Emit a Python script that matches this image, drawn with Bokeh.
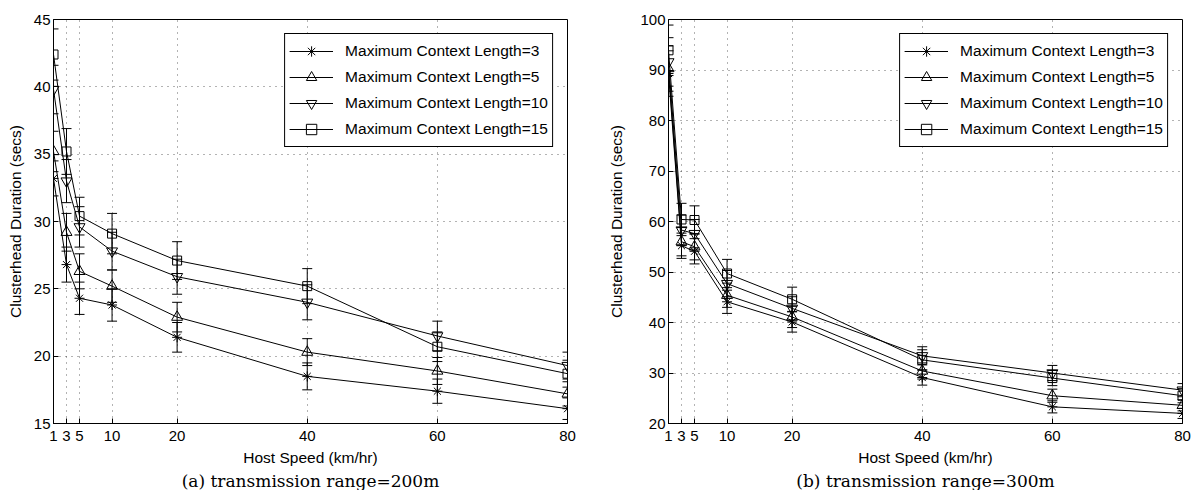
from bokeh.plotting import figure
from bokeh.layouts import row
from bokeh.models import ColumnDataSource, Whisker, TeeHead, FixedTicker, Title, Legend
from bokeh.embed import file_html
from bokeh.resources import INLINE

speeds = [1, 3, 5, 10, 20, 40, 60, 80]
series_labels = ["Maximum Context Length=3", "Maximum Context Length=5",
                 "Maximum Context Length=10", "Maximum Context Length=15"]

# (a) transmission range = 200m
a_mcl3 = [33.2, 26.8, 24.3, 23.8, 21.4, 18.5, 17.4, 16.1]
a_mcl5 = [35.2, 29.2, 26.3, 25.2, 22.9, 20.3, 18.9, 17.2]
a_mcl10 = [39.8, 33.0, 29.6, 27.8, 25.9, 24.0, 21.5, 19.3]
a_mcl15 = [42.4, 35.2, 30.4, 29.1, 27.1, 25.2, 20.7, 18.7]
a_err3 = [1.3, 1.3, 1.2, 1.2, 1.1, 1.0, 0.9, 0.8]
a_err5 = [1.5, 1.4, 1.3, 1.2, 1.1, 1.0, 1.0, 0.9]
a_err10 = [1.8, 1.6, 1.5, 1.4, 1.3, 1.3, 1.1, 1.0]
a_err15 = [1.9, 1.7, 1.4, 1.5, 1.4, 1.3, 1.1, 1.0]

# (b) transmission range = 300m
b_mcl3 = [89.3, 55.2, 54.1, 44.1, 40.1, 29.1, 23.3, 22.0]
b_mcl5 = [90.3, 56.0, 55.0, 45.4, 41.1, 30.4, 25.5, 23.6]
b_mcl10 = [91.6, 58.3, 57.6, 47.7, 42.8, 33.4, 30.0, 26.6]
b_mcl15 = [93.9, 60.4, 60.3, 49.7, 44.6, 32.6, 29.0, 25.5]
b_err3 = [4.5, 2.5, 2.5, 2.3, 2.0, 1.5, 1.2, 1.0]
b_err5 = [4.5, 2.8, 2.6, 2.4, 2.1, 1.6, 1.3, 1.1]
b_err10 = [4.8, 3.0, 2.8, 2.6, 2.3, 1.8, 1.5, 1.3]
b_err15 = [5.0, 3.2, 2.8, 2.8, 2.4, 2.0, 1.5, 1.4]

markers = ["asterisk", "triangle", "inverted_triangle", "square"]
msizes = [10, 11, 11, 9]

SANS = "Liberation Sans"


def make_panel(vals, errs, yr, yticks, caption, width, bl, br, ylab_standoff):
    p = figure(width=width, height=490, x_range=(1, 80), y_range=yr,
               output_backend="svg", toolbar_location=None,
               min_border_left=bl, min_border_right=br,
               min_border_top=19, min_border_bottom=10)
    p.outline_line_color = "black"
    p.outline_line_width = 1
    p.outline_line_alpha = 1
    p.background_fill_color = "white"
    p.border_fill_color = "white"

    p.xaxis.ticker = FixedTicker(ticks=speeds)
    p.yaxis.ticker = FixedTicker(ticks=yticks)
    for ax in (p.xaxis[0], p.yaxis[0]):
        ax.major_tick_in = 5
        ax.major_tick_out = 0
        ax.minor_tick_in = 0
        ax.minor_tick_out = 0
        ax.axis_line_color = "black"
        ax.major_tick_line_color = "black"
        ax.major_label_text_font = SANS
        ax.major_label_text_font_size = "15px"
        ax.major_label_text_color = "black"
        ax.axis_label_text_font = SANS
        ax.axis_label_text_font_size = "15.5px"
        ax.axis_label_text_font_style = "normal"
        ax.axis_label_text_color = "black"
    p.xaxis.major_label_standoff = 7
    p.yaxis.major_label_standoff = 3
    p.xaxis.axis_label = "Host Speed (km/hr)"
    p.yaxis.axis_label = "Clusterhead Duration (secs)"
    p.xaxis.axis_label_standoff = 5
    p.yaxis.axis_label_standoff = ylab_standoff

    for g in (p.xgrid[0], p.ygrid[0]):
        g.grid_line_color = "black"
        g.grid_line_alpha = 0.6
        g.grid_line_dash = "1 5"
        g.grid_line_width = 1

    items = []
    for i in range(4):
        y = vals[i]
        e = errs[i]
        src = ColumnDataSource(dict(x=speeds, y=y,
                                    upper=[a + b for a, b in zip(y, e)],
                                    lower=[a - b for a, b in zip(y, e)]))
        w = Whisker(source=src, base="x", upper="upper", lower="lower",
                    line_color="black", line_width=1,
                    upper_head=TeeHead(size=10, line_color="black", line_width=1),
                    lower_head=TeeHead(size=10, line_color="black", line_width=1))
        p.add_layout(w)
        r1 = p.line("x", "y", source=src, line_color="black", line_width=1)
        r2 = p.scatter("x", "y", source=src, marker=markers[i], size=msizes[i],
                       line_color="black", line_width=1, fill_color=None)
        items.append((series_labels[i], [r1, r2]))

    leg = Legend(items=items, location="top_right", margin=14,
                 border_line_color="black", border_line_width=1, border_line_alpha=1,
                 background_fill_color="white", background_fill_alpha=1,
                 label_text_font=SANS, label_text_font_size="15.5px",
                 label_text_color="black",
                 glyph_width=44, glyph_height=26, label_height=26,
                 label_standoff=12, spacing=0, padding=4)
    p.add_layout(leg)

    t = Title(text=caption, align="center", text_font="DejaVu Serif",
              text_font_size="17px", text_font_style="normal",
              text_color="black", standoff=0, offset=0)
    p.add_layout(t, "below")
    return p


pa = make_panel([a_mcl3, a_mcl5, a_mcl10, a_mcl15],
                [a_err3, a_err5, a_err10, a_err15],
                (15, 45), [15, 20, 25, 30, 35, 40, 45],
                "(a) transmission range=200m", 600, 53, 33, 7)
pb = make_panel([b_mcl3, b_mcl5, b_mcl10, b_mcl15],
                [b_err3, b_err5, b_err10, b_err15],
                (20, 100), [20, 30, 40, 50, 60, 70, 80, 90, 100],
                "(b) transmission range=300m", 600, 68, 18, 12)

layout = row(pa, pb)
open("out.html", "w").write(file_html(layout, INLINE))
